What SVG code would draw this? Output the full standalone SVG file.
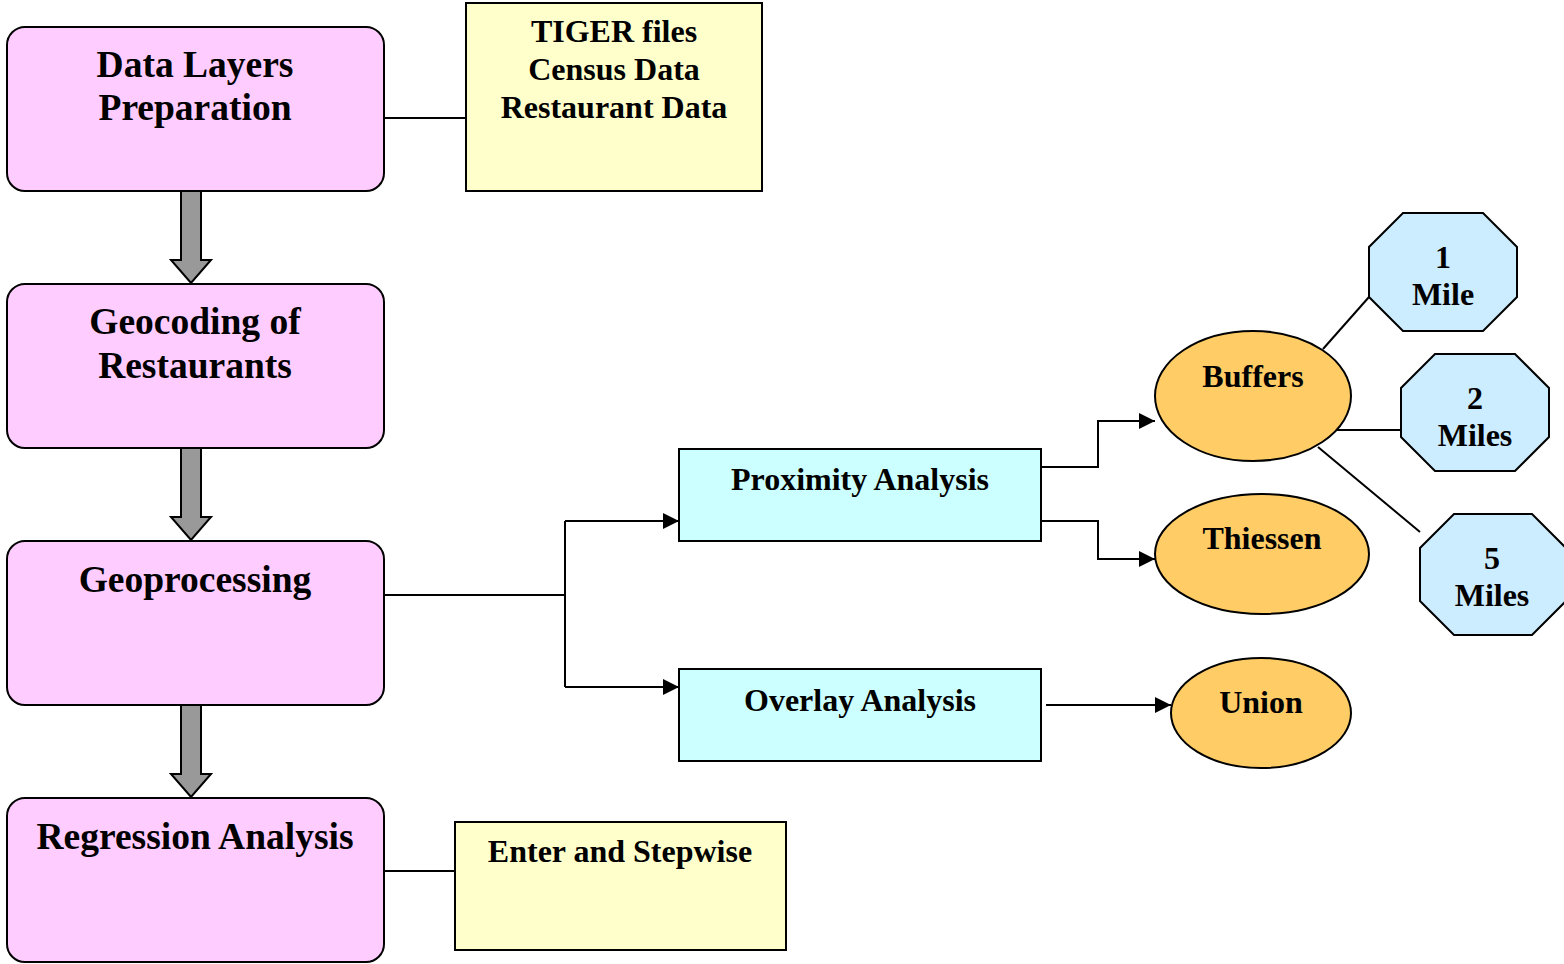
<svg xmlns="http://www.w3.org/2000/svg" width="1564" height="964" viewBox="0 0 1564 964">
<defs>
<style>
text{font-family:"Liberation Serif","Times New Roman",serif;font-weight:bold;fill:#000;text-anchor:middle}
.pink{fill:#FFCCFF;stroke:#000;stroke-width:2}
.yel{fill:#FFFFCC;stroke:#000;stroke-width:2}
.cyan{fill:#CCFFFF;stroke:#000;stroke-width:2}
.ora{fill:#FFCC66;stroke:#000;stroke-width:2}
.oct{fill:#CCECFF;stroke:#000;stroke-width:2}
.big{font-size:37.5px}
.mid{font-size:32px}
.ln{fill:none;stroke:#000;stroke-width:2}
.blk{fill:#999999;stroke:#000;stroke-width:2}
</style>
<marker id="ah" viewBox="0 0 10 10" refX="10" refY="5" markerWidth="16" markerHeight="16" markerUnits="userSpaceOnUse" orient="auto">
<path d="M0,0 L10,5 L0,10 z" fill="#000"/>
</marker>
</defs>
<g id="connectors">
<path class="blk" d="M181,191 V260 H171 L191,283 L211,260 H201 V191 Z"/>
<path class="blk" d="M181,448 V517 H171 L191,540 L211,517 H201 V448 Z"/>
<path class="blk" d="M181,705 V774 H171 L191,797 L211,774 H201 V705 Z"/>
<path class="ln" d="M384,118 H466"/>
<path class="ln" d="M384,871 H455"/>
<path class="ln" d="M384,595 H565"/>
<path class="ln" d="M565,521 V687"/>
<path class="ln" d="M565,521 H679" marker-end="url(#ah)"/>
<path class="ln" d="M565,687 H679" marker-end="url(#ah)"/>
<path class="ln" d="M1041,467 H1098 V421 H1155" marker-end="url(#ah)"/>
<path class="ln" d="M1041,521 H1098 V559 H1155" marker-end="url(#ah)"/>
<path class="ln" d="M1046,705 H1171" marker-end="url(#ah)"/>
<path class="ln" d="M1323,349 L1369,297"/>
<path class="ln" d="M1337,430 H1401"/>
<path class="ln" d="M1318,447 L1420,532"/>
</g>
<g id="data-layers">
<rect class="pink" x="7" y="27" width="377" height="164" rx="18"/>
<text class="big" x="195" y="77">Data Layers</text>
<text class="big" x="195" y="120">Preparation</text>
</g>
<g id="geocoding">
<rect class="pink" x="7" y="284" width="377" height="164" rx="18"/>
<text class="big" x="195" y="334">Geocoding of</text>
<text class="big" x="195" y="378">Restaurants</text>
</g>
<g id="geoprocessing">
<rect class="pink" x="7" y="541" width="377" height="164" rx="18"/>
<text class="big" x="195" y="592">Geoprocessing</text>
</g>
<g id="regression">
<rect class="pink" x="7" y="798" width="377" height="164" rx="18"/>
<text class="big" x="195" y="849">Regression Analysis</text>
</g>
<g id="sources">
<rect class="yel" x="466" y="3" width="296" height="188"/>
<text class="mid" x="614" y="42">TIGER files</text>
<text class="mid" x="614" y="80">Census Data</text>
<text class="mid" x="614" y="118">Restaurant Data</text>
</g>
<g id="stepwise">
<rect class="yel" x="455" y="822" width="331" height="128"/>
<text class="mid" x="620" y="862">Enter and Stepwise</text>
</g>
<g id="proximity">
<rect class="cyan" x="679" y="449" width="362" height="92"/>
<text class="mid" x="860" y="490">Proximity Analysis</text>
</g>
<g id="overlay">
<rect class="cyan" x="679" y="669" width="362" height="92"/>
<text class="mid" x="860" y="711">Overlay Analysis</text>
</g>
<g id="buffers">
<ellipse class="ora" cx="1253" cy="396" rx="98" ry="65"/>
<text class="mid" x="1253" y="387">Buffers</text>
</g>
<g id="thiessen">
<ellipse class="ora" cx="1262" cy="554" rx="107" ry="60"/>
<text class="mid" x="1262" y="549">Thiessen</text>
</g>
<g id="union">
<ellipse class="ora" cx="1261" cy="713" rx="90" ry="55"/>
<text class="mid" x="1261" y="713">Union</text>
</g>
<g id="mile1">
<polygon class="oct" points="1403,213 1483,213 1517,247 1517,297 1483,331 1403,331 1369,297 1369,247"/>
<text class="mid" x="1443" y="268">1</text>
<text class="mid" x="1443" y="305">Mile</text>
</g>
<g id="mile2">
<polygon class="oct" points="1435,354 1515,354 1549,388 1549,437 1515,471 1435,471 1401,437 1401,388"/>
<text class="mid" x="1475" y="409">2</text>
<text class="mid" x="1475" y="446">Miles</text>
</g>
<g id="mile5">
<polygon class="oct" points="1454,514 1532,514 1566,548 1566,601 1532,635 1454,635 1420,601 1420,548"/>
<text class="mid" x="1492" y="569">5</text>
<text class="mid" x="1492" y="606">Miles</text>
</g>
</svg>
